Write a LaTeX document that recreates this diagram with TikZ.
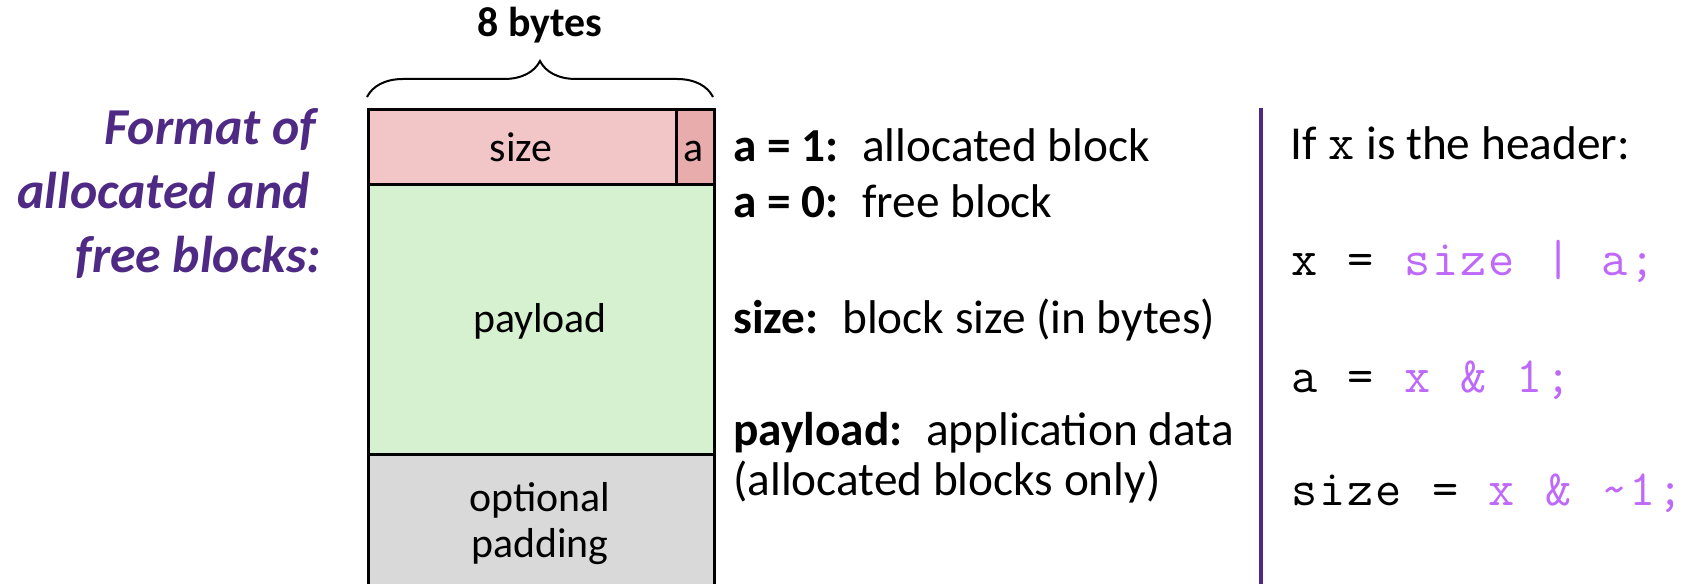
\documentclass[tikz,border=0pt]{standalone}
\usepackage{fontspec}
\setmainfont{Carlito}
\newfontfamily\codefam{Latin Modern Mono}
\usetikzlibrary{decorations.pathreplacing}
\definecolor{sizefill}{RGB}{242,198,199}
\definecolor{afill}{RGB}{232,172,172}
\definecolor{payfill}{RGB}{214,241,208}
\definecolor{padfill}{RGB}{217,217,217}
\definecolor{darkpurple}{RGB}{78,42,132}
\definecolor{codepurple}{RGB}{190,105,250}
\newcommand{\boxfont}{\fontsize{42}{47}\selectfont}
\newcommand{\descfont}{\fontsize{47.5}{50}\selectfont}
\newcommand{\titlefont}{\fontsize{52}{60}\selectfont\bfseries\itshape}
\newcommand{\codefont}{\fontsize{51}{54}\codefam\selectfont}
\newcommand{\ch}[1]{\makebox[28.2bp][c]{#1}}
\newcommand{\csp}{\hspace*{28.2bp}}
\tikzset{
  cell/.style={draw=black, line width=3bp, anchor=north west, inner sep=0pt},
  txt/.style={inner sep=0pt, anchor=base west},
  ttl/.style={inner sep=0pt, anchor=base east, text=darkpurple, font=\titlefont},
}
\begin{document}
\begin{tikzpicture}[x=1bp,y=-1bp]
\useasboundingbox (0,0) rectangle (1690,584);
\clip (0,0) rectangle (1690,584);
% block cells
\node[cell, fill=sizefill, minimum width=308bp, minimum height=75bp] (size) at (367,108) {};
\node[cell, fill=afill, minimum width=38bp, minimum height=75bp] (abit) at (675,108) {};
\node[cell, fill=payfill, minimum width=346bp, minimum height=270bp] (payload) at (367,183) {};
\node[cell, fill=padfill, minimum width=346bp, minimum height=160bp] (padding) at (367,453) {};
% labels in cells
\node[inner sep=0pt, anchor=base, font=\boxfont] (sizelbl) at (521,162) {size};
\node[inner sep=0pt, anchor=base, font=\boxfont] (albl) at (694,162) {a};
\node[inner sep=0pt, anchor=base, font=\boxfont] (paylbl) at (540,332) {payload};
\node[inner sep=0pt, anchor=base, font=\boxfont] (optlbl) at (540,511) {optional};
\node[inner sep=0pt, anchor=base, font=\boxfont] (padlbl) at (540,557) {padding};
% brace
\coordinate (bl) at (367,97);
\coordinate (br) at (713,97);
\draw[line width=2bp, decorate, decoration={brace, amplitude=36bp, raise=0bp}] (bl) -- (br);
\node[inner sep=0pt, anchor=base, font=\boxfont\bfseries] (bytes) at (540,37) {8 bytes};
% title
\node[ttl] (t1) at (316,145) {Format of};
\node[ttl] (t2) at (310,209) {allocated and};
\node[ttl] (t3) at (321,272) {free blocks:};
% descriptions
\node[txt, font=\descfont] (d1) at (733,162) {\textbf{a = 1:}\enspace allocated block};
\node[txt, font=\descfont] (d2) at (733,218) {\textbf{a = 0:}\enspace free block};
\node[txt, font=\descfont] (d3) at (733,333) {\textbf{size:}\enspace block size (in bytes)};
\node[txt, font=\descfont] (d4) at (733,445) {\textbf{payload:}\enspace application data};
\node[txt, font=\descfont] (d5) at (733,495) {(allocated blocks only)};
% divider
\coordinate (dtop) at (1261,108);
\coordinate (dbot) at (1261,600);
\draw[darkpurple, line width=4.5bp] (dtop) -- (dbot);
% header text and code
\node[txt, font=\descfont] (h1) at (1290,160) {If {\codefont\ch{x}} is the header:};
\node[txt, font=\codefont] (c1) at (1290,275)
  {\ch{x}\csp\ch{=}\csp\textcolor{codepurple}{\ch{s}\ch{i}\ch{z}\ch{e}\csp\ch{|}\csp\ch{a}\ch{;}}};
\node[txt, font=\codefont] (c2) at (1290,392)
  {\ch{a}\csp\ch{=}\csp\textcolor{codepurple}{\ch{x}\csp\ch{\&}\csp\ch{1}\ch{;}}};
\node[txt, font=\codefont] (c3) at (1290,505)
  {\ch{s}\ch{i}\ch{z}\ch{e}\csp\ch{=}\csp\textcolor{codepurple}{\ch{x}\csp\ch{\&}\csp\ch{\char`\~}\ch{1}\ch{;}}};
\end{tikzpicture}
\end{document}
